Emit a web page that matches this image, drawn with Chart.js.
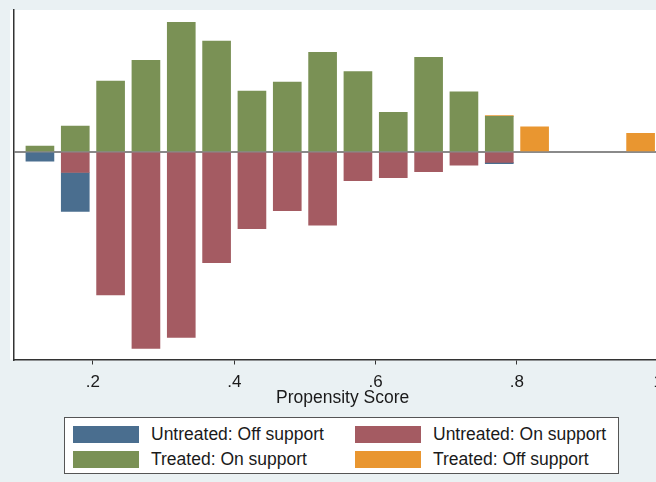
<!DOCTYPE html>
<html>
<head>
<meta charset="utf-8">
<script src="https://cdn.jsdelivr.net/npm/chart.js@4/dist/chart.umd.min.js"></script>
<style>
  html, body { margin: 0; padding: 0; background: #eaf1f3; }
  #wrap { position: relative; width: 656px; height: 482px; overflow: hidden; }
  canvas { display: block; }
  #legend {
    position: absolute; left: 64px; top: 417px; width: 553px; height: 55px;
    background: #fff; border: 1px solid #555;
    font-family: "Liberation Sans", Arial, sans-serif; font-size: 17.5px; color: #1a1a1a;
  }
  .item { position: absolute; display: flex; align-items: center; height: 18px; white-space: nowrap; }
  .sw { width: 66px; height: 17px; margin-right: 12px; }
</style>
</head>
<body>
<div id="wrap">
  <!-- the plot runs past the right edge of the picture, so the canvas is wider than the window -->
  <canvas id="psChart" width="672" height="482"></canvas>
  <div id="legend"></div>
</div>
<script>
// bin midpoints of the propensity score histogram (bin width .05)
const binMids = [0.125, 0.175, 0.225, 0.275, 0.325, 0.375, 0.425, 0.475, 0.525,
                 0.575, 0.625, 0.675, 0.725, 0.775, 0.825, 0.875, 0.925, 0.975];

// bar heights (treated drawn upward, untreated downward)
const treatedOn    = [5.7, 25.7, 70.7, 91.7, 129.7, 111, 60.7, 69.7, 99.7, 80.4, 39.4, 94.7, 60, 35.4, null, null, null, null];
const treatedOff   = [null, null, null, null, null, null, null, null, null, null, null, null, null, 0.9, 25, null, null, 18.4];
const untreatedOn  = [null, -20.7, -143.3, -197, -186, -111, -77, -59, -73.6, -29, -26, -20, -13.3, -10.6, null, null, null, null];
const untreatedOff = [-9.3, -39, null, null, null, null, null, null, null, null, null, null, null, -1.2, null, null, null, null];

const xTicks = [0.2, 0.4, 0.6, 0.8, 1];

const colors = {
  untreatedOff: "#4a6e8f",
  untreatedOn:  "#a45b62",
  treatedOn:    "#7a9155",
  treatedOff:   "#e99630"
};

function pts(vals) {
  return binMids.map((x, i) => ({ x: x, y: vals[i] }));
}

function ds(label, vals, col) {
  return {
    label: label,
    data: pts(vals),
    backgroundColor: col,
    borderColor: col,
    borderWidth: 0,
    barThickness: 28
  };
}

// white plot region behind the bars
const plotBg = {
  id: "plotBg",
  beforeDraw(chart) {
    const a = chart.chartArea;
    const c = chart.ctx;
    c.save();
    c.fillStyle = "#ffffff";
    c.fillRect(a.left - 4, a.top, a.right - a.left + 4, a.bottom - a.top);
    c.restore();
  }
};

const font = "'Liberation Sans', Arial, sans-serif";

new Chart(document.getElementById("psChart").getContext("2d"), {
  type: "bar",
  data: {
    datasets: [
      // order matters for stacking: on-support bars sit next to the zero line
      ds("Untreated: On support", untreatedOn, colors.untreatedOn),
      ds("Untreated: Off support", untreatedOff, colors.untreatedOff),
      ds("Treated: On support", treatedOn, colors.treatedOn),
      ds("Treated: Off support", treatedOff, colors.treatedOff)
    ]
  },
  options: {
    responsive: false,
    animation: false,
    layout: { padding: { left: 14, right: 0, top: 10, bottom: 75 } },
    plugins: {
      legend: { display: false },
      tooltip: { enabled: false }
    },
    scales: {
      x: {
        type: "linear",
        stacked: true,
        offset: false,
        min: 0.0883,
        max: 1.0184,
        afterBuildTicks(scale) {
          scale.ticks = xTicks.map(v => ({ value: v }));
        },
        border: { display: true, color: "#333", width: 1.5 },
        grid: { offset: false, drawOnChartArea: false, drawTicks: true, tickLength: 5, color: "#333", lineWidth: 1 },
        ticks: {
          autoSkip: false,
          maxRotation: 0,
          padding: 9,
          color: "#1a1a1a",
          font: { family: font, size: 17, lineHeight: 1 },
          callback: v => String(v).replace(/^0\./, ".")
        },
        title: {
          display: true,
          text: "Propensity Score",
          color: "#1a1a1a",
          padding: { top: -10, bottom: 0 },
          font: { family: font, size: 17.5, lineHeight: 1 }
        }
      },
      y: {
        stacked: true,
        min: -208,
        max: 142,
        afterBuildTicks(scale) {
          scale.ticks = [{ value: 0 }];
        },
        border: { display: true, color: "#333", width: 1.5 },
        grid: { drawTicks: false, color: "#8a8a8a", lineWidth: 2 },
        ticks: { display: false }
      }
    }
  },
  plugins: [plotBg]
});

// legend laid out in two columns like the Stata original
const legendItems = [
  { label: "Untreated: Off support", col: colors.untreatedOff, left: 8, top: 7 },
  { label: "Untreated: On support", col: colors.untreatedOn, left: 290, top: 7 },
  { label: "Treated: On support", col: colors.treatedOn, left: 8, top: 32 },
  { label: "Treated: Off support", col: colors.treatedOff, left: 290, top: 32 }
];
const leg = document.getElementById("legend");
legendItems.forEach(it => {
  const d = document.createElement("div");
  d.className = "item";
  d.style.left = it.left + "px";
  d.style.top = it.top + "px";
  const s = document.createElement("span");
  s.className = "sw";
  s.style.background = it.col;
  const t = document.createElement("span");
  t.textContent = it.label;
  d.appendChild(s);
  d.appendChild(t);
  leg.appendChild(d);
});
</script>
</body>
</html>
